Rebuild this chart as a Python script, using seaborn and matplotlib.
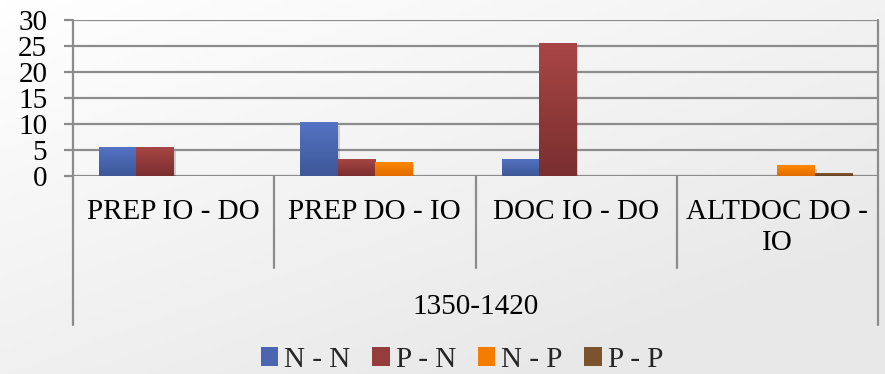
import numpy as np
import pandas as pd
import matplotlib
matplotlib.use("Agg")
import matplotlib.pyplot as plt
import matplotlib.patheffects as pe
from matplotlib.patches import Patch
from matplotlib.transforms import blended_transform_factory
import seaborn as sns

# ---- data -------------------------------------------------------------
categories = ["PREP IO - DO", "PREP DO - IO", "DOC IO - DO", "ALTDOC DO -\nIO"]
series = ["N - N", "P - N", "N - P", "P - P"]
nn_values = [5.5, 10.3, 3.3, 0.0]
pn_values = [5.5, 3.3, 25.5, 0.0]
np_values = [0.0, 2.7, 0.0, 2.1]
pp_values = [0.0, 0.0, 0.0, 0.6]
period_label = "1350-1420"
y_ticks = [0, 5, 10, 15, 20, 25, 30]

# ---- style ------------------------------------------------------------
sns.set_theme(style="white")
plt.rcParams["font.family"] = ["Liberation Serif", "DejaVu Serif"]
FS = 21
GRID = "#8c8c8c"

mid_colors = ["#4a66b0", "#953c3c", "#f57c00", "#7d532d"]
top_colors = ["#5473c4", "#a84646", "#ff8a00", "#8f6136"]
bot_colors = ["#3d5797", "#7a2e2e", "#e06c00", "#654222"]

df = pd.DataFrame({
    "category": np.repeat(categories, len(series)),
    "series": series * len(categories),
    "value": [v for row in zip(nn_values, pn_values, np_values, pp_values) for v in row],
})

W, H = 885, 374
fig = plt.figure(figsize=(W / 100, H / 100), dpi=100)

# soft diagonal background shading
bg = fig.add_axes([0, 0, 1, 1], zorder=-10)
gx, gy = np.meshgrid(np.linspace(0, 1, 200), np.linspace(0, 1, 100))
shade = 1.0 - 0.09 * np.clip((gx * 0.55 + gy * 0.65), 0, 1)
bg.imshow(np.dstack([shade, shade, shade]), extent=(0, 1, 0, 1), aspect="auto", origin="upper")
bg.axis("off")

ax = fig.add_axes([73 / W, 1 - 176 / H, (878 - 73) / W, (176 - 20) / H])
ax.set_facecolor("none")

sns.barplot(data=df, x="category", y="value", hue="series",
            order=categories, hue_order=series, palette=mid_colors,
            width=0.74, saturation=1, legend=False, ax=ax)

ax.set_ylim(0, 30)
ax.set_xlim(-0.5, 3.5)
ax.set_yticks(y_ticks)

# vertical gradient fill and soft shadow on each bar
for cont, ctop, cbot in zip(ax.containers, top_colors, bot_colors):
    c0 = np.array(matplotlib.colors.to_rgb(ctop))
    c1 = np.array(matplotlib.colors.to_rgb(cbot))
    grad = np.linspace(0, 1, 64)[:, None, None] * (c1 - c0) + c0
    for bar in cont:
        h = bar.get_height()
        if h <= 0:
            bar.set_visible(False)
            continue
        bar.set_linewidth(0)
        bar.set_path_effects([pe.SimplePatchShadow(offset=(1.5, -2.5), shadow_rgbFace="k", alpha=0.18),
                              pe.Normal()])
        x0 = bar.get_x()
        im = ax.imshow(grad, extent=(x0, x0 + bar.get_width(), 0, h),
                       aspect="auto", origin="upper", zorder=bar.get_zorder() + 0.1)
        im.set_clip_path(bar)
ax.set_ylim(0, 30)
ax.set_xlim(-0.5, 3.5)

# grid and axis lines
ax.yaxis.grid(True, color=GRID, lw=1.6)
ax.set_axisbelow(True)
for s in ["top", "right", "bottom", "left"]:
    ax.spines[s].set_visible(False)
ax.tick_params(axis="y", length=6.5, width=1.6, color=GRID, pad=12,
               labelsize=FS, labelcolor="black", left=True)
ax.tick_params(axis="x", length=0, labelbottom=False)
ax.set_xlabel("")
ax.set_ylabel("")

ah = 176 - 20  # axes height in px
def ay(py):
    return (176 - py) / ah

trans = blended_transform_factory(ax.transData, ax.transAxes)
# outer frame lines of the two-level category axis
for xv in (-0.5, 3.5):
    ax.plot([xv, xv], [1.0, ay(325)], color=GRID, lw=1.6, transform=trans, clip_on=False)
for xv in (0.5, 1.5, 2.5):
    ax.plot([xv, xv], [0.0, ay(268)], color=GRID, lw=1.6, transform=trans, clip_on=False)

for i, lab in enumerate(categories):
    ax.text(i, ay(199), lab, transform=trans, ha="center", va="top",
            fontsize=FS, linespacing=1.25, color="black")
ax.text(1.5, ay(307), period_label, transform=trans, ha="center", va="center",
        fontsize=FS, color="black")

handles = [Patch(facecolor=c, edgecolor="none") for c in mid_colors]
fig.legend(handles, series, loc="center", bbox_to_anchor=(462 / W, 1 - 360 / H),
           ncol=4, frameon=False, fontsize=FS, handlelength=0.6, handleheight=0.6,
           handletextpad=0.2, columnspacing=0.75, borderpad=0.1)

fig.savefig("out.png", dpi=100)
